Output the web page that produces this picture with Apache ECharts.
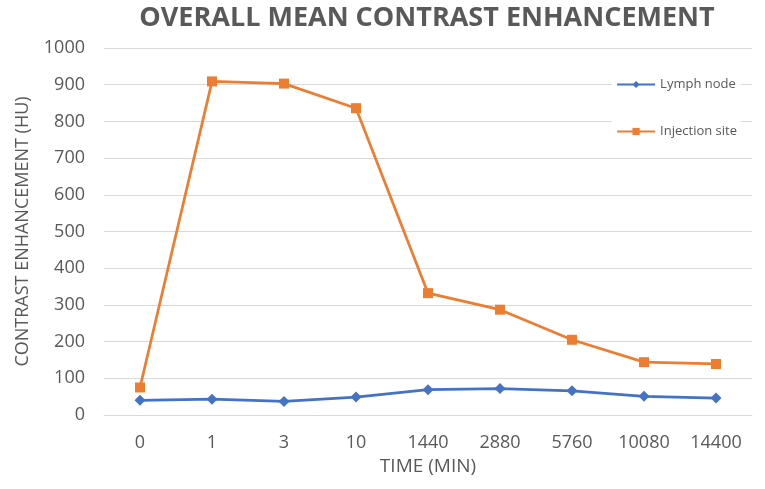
<!DOCTYPE html>
<html>
<head>
<meta charset="utf-8">
<script src="https://cdn.jsdelivr.net/npm/echarts@6/dist/echarts.min.js"></script>
<style>
  html, body { margin: 0; padding: 0; background: #fff; }
  #chart { width: 765px; height: 489px; }
</style>
</head>
<body>
<div id="chart"></div>
<script>
// data
var timeLabels = ['0', '1', '3', '10', '1440', '2880', '5760', '10080', '14400'];
var lymphNode = [40, 43, 37, 49, 69, 72, 66, 51, 46];
var injectionSite = [75, 909, 903, 836, 332, 287, 205, 144, 139];

var textGray = '#595959';
var chart = echarts.init(document.getElementById('chart'));

var option = {
    backgroundColor: '#fff',
    title: {
        text: 'OVERALL MEAN CONTRAST ENHANCEMENT',
        left: 422,
        top: 0,
        textAlign: 'center',
        textStyle: {
            fontFamily: 'Open Sans',
            fontWeight: 'bold',
            fontSize: 27,
            color: textGray
        }
    },
    legend: {
        orient: 'vertical',
        right: 24,
        top: 76,
        itemGap: 34,
        itemWidth: 38,
        itemHeight: 9,
        backgroundColor: '#fff',
        padding: [2, 4],
        textStyle: { fontFamily: 'Open Sans', fontSize: 13, color: textGray },
        data: ['Lymph node', 'Injection site']
    },
    grid: { left: 104, right: 13, top: 48, bottom: 74 },
    xAxis: {
        type: 'category',
        data: timeLabels,
        name: 'TIME (MIN)',
        nameLocation: 'middle',
        nameGap: 42,
        nameTextStyle: { fontFamily: 'Open Sans', fontSize: 19, color: textGray },
        axisLine: { lineStyle: { color: '#d9d9d9' } },
        axisTick: { show: false },
        axisLabel: { fontFamily: 'Open Sans', fontSize: 18, color: textGray, margin: 19 }
    },
    yAxis: {
        type: 'value',
        min: 0,
        max: 1000,
        interval: 100,
        name: 'CONTRAST ENHANCEMENT (HU)',
        nameLocation: 'middle',
        nameGap: 72,
        nameTextStyle: { fontFamily: 'Open Sans', fontSize: 18, color: textGray },
        axisLine: { show: false },
        axisTick: { show: false },
        axisLabel: {
            fontFamily: 'Open Sans', fontSize: 18, color: textGray, margin: 19,
            formatter: function (v) { return String(v); }
        },
        splitLine: { lineStyle: { color: '#d9d9d9', width: 1 } }
    },
    series: [
        {
            name: 'Lymph node',
            type: 'line',
            data: lymphNode,
            symbol: 'diamond',
            symbolSize: 11,
            itemStyle: { color: '#4472C4' },
            lineStyle: { width: 2.75, color: '#4472C4' },
            z: 3
        },
        {
            name: 'Injection site',
            type: 'line',
            data: injectionSite,
            symbol: 'rect',
            symbolSize: 10,
            itemStyle: { color: '#ED7D31' },
            lineStyle: { width: 2.75, color: '#ED7D31' },
            z: 2
        }
    ]
};

chart.setOption(option);
</script>
</body>
</html>
